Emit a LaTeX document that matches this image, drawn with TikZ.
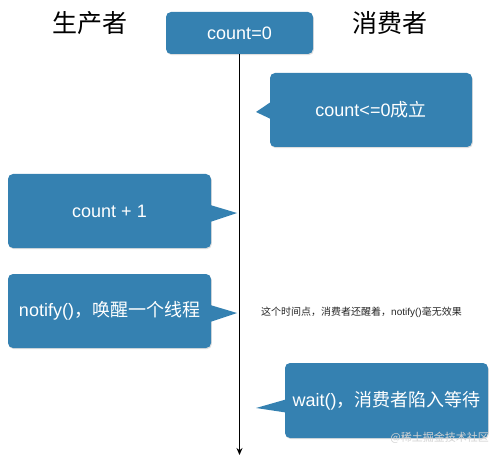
\documentclass[tikz,border=0pt]{standalone}
\usepackage{fontspec}
\setmainfont{Noto Sans CJK SC}
\newfontfamily\lat{Liberation Sans}
\usetikzlibrary{arrows.meta,shadows}
\definecolor{bubble}{HTML}{3581B1}
\begin{document}
\begin{tikzpicture}[x=1pt,y=-1pt,
  box/.style={fill=bubble, rounded corners=5pt, text=white, inner sep=0pt,
    font=\fontsize{18}{20}\selectfont,
    drop shadow={opacity=0.25,shadow xshift=0.8pt,shadow yshift=-1.2pt}},
  ptr/.style={fill=bubble},
  head/.style={font=\fontsize{25}{28}\selectfont, text=black, inner sep=0pt},
  note/.style={font=\fontsize{10}{12}\selectfont, text=black!85, inner sep=0pt},
  wmark/.style={font=\fontsize{11}{12}\selectfont, text=gray!35, inner sep=0pt},
  timeline/.style={line width=1.1pt, -{Stealth[length=7pt,width=6pt]}}]
\useasboundingbox (0,0) rectangle (503,457);

% headers
\node[head] (prod) at (90,23) {生产者};
\node[head] (cons) at (390,23) {消费者};

% timeline
\node[box, minimum width=147pt, minimum height=42pt] (t0) at (239.5,33) {\lat count=0};
\coordinate (lend) at (239.5,455);
\draw[timeline] (t0.south) -- (lend);

% consumer: condition
\node[box, minimum width=202pt, minimum height=74pt] (cond) at (371,110) {{\lat count<=0}成立};
\coordinate (condtip) at (256,112);
\fill[ptr] ([xshift=1pt,yshift=8pt]cond.west) -- (condtip) -- ([xshift=1pt,yshift=-9pt]cond.west) -- cycle;

% producer: increment
\node[box, minimum width=203pt, minimum height=74pt] (inc) at (109.5,211) {\lat count + 1};
\coordinate (inctip) at (237,213);
\fill[ptr] ([xshift=-1pt,yshift=6pt]inc.east) -- (inctip) -- ([xshift=-1pt,yshift=-11pt]inc.east) -- cycle;

% producer: notify
\node[box, minimum width=203pt, minimum height=74pt] (notify) at (109.5,311) {{\lat notify()}，唤醒一个线程};
\coordinate (notifytip) at (237,313);
\fill[ptr] ([xshift=-1pt,yshift=6pt]notify.east) -- (notifytip) -- ([xshift=-1pt,yshift=-11pt]notify.east) -- cycle;

% note
\node[note, anchor=west] (remark) at (261,312) {这个时间点，消费者还醒着，{\lat notify()}毫无效果};

% consumer: wait
\node[box, minimum width=203pt, minimum height=75pt] (wait) at (386.5,400.5) {{\lat wait()}，消费者陷入等待};
\coordinate (waittip) at (256,408);
\fill[ptr] ([xshift=1pt,yshift=1pt]wait.west) -- (waittip) -- ([xshift=1pt,yshift=-12pt]wait.west) -- cycle;

% watermark
\node[wmark, anchor=east] (wm) at (489,438) {@稀土掘金技术社区};
\end{tikzpicture}
\end{document}
